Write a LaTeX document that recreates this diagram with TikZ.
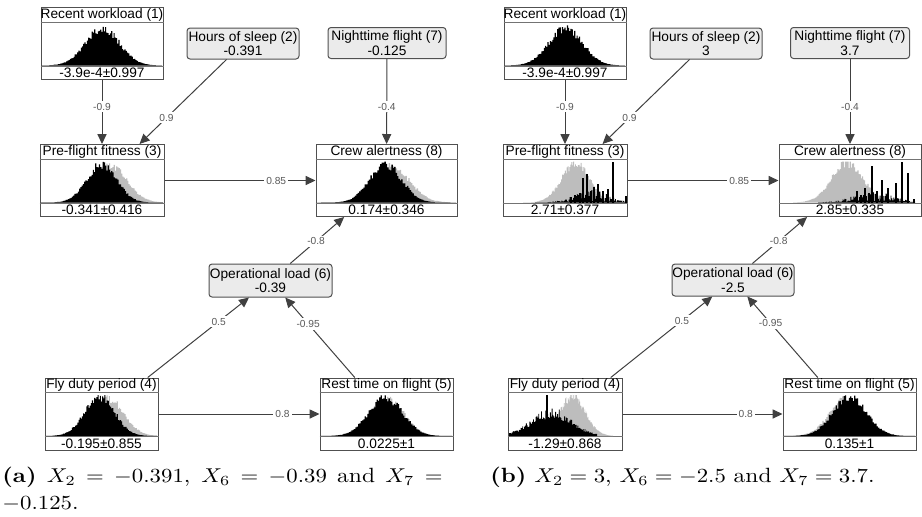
\documentclass[tikz,border=0pt]{standalone}
\usepackage{fontspec}
\newfontfamily\genie{Liberation Sans}
\usetikzlibrary{arrows.meta}
\definecolor{cev}{HTML}{EBEBEB}
\definecolor{cline}{HTML}{505050}
\definecolor{cprior}{HTML}{BDBDBD}
\definecolor{clab}{HTML}{5A5A5A}
\newcommand\nfont{\genie\fontsize{6.85}{7.3}\selectfont}
\newcommand\lfont{\genie\fontsize{5.1}{6}\selectfont}
\tikzset{
  distbox/.style={draw=cline,line width=0.5pt,inner sep=0pt,minimum height=36pt},
  sepline/.style={draw=cline!80,line width=0.5pt},
  nodetext/.style={inner sep=0pt,font=\nfont},
  evbox/.style={draw=cline,fill=cev,line width=0.5pt,rounded corners=1.5pt,inner sep=0pt,
    align=center,font=\nfont,minimum height=15.5pt},
  edge/.style={->,draw=black!75,line width=0.5pt},
  elabel/.style={fill=white,inner sep=1pt,text=clab,font=\lfont},
  spike/.style={draw=black,line width=0.9pt},
  captext/.style={inner sep=0pt,align=left,xscale=1.14,font=\fontsize{10.3}{13.2}\selectfont}
}
% box with title row, histogram area and value row
\newcommand\distnode[5]{%
  \node[distbox,minimum width=#3*0.5pt] (#1) at #2 {};
  \draw[sepline] ([yshift=-7.5pt]#1.north west) -- ([yshift=-7.5pt]#1.north east);
  \draw[sepline] ([yshift=7pt]#1.south west) -- ([yshift=7pt]#1.south east);
  \node[nodetext] (#1-t) at ([yshift=-3.9pt]#1.north) {#4};
  \node[nodetext] (#1-v) at ([yshift=3.4pt]#1.south) {#5};
}
% noisy gaussian histogram: [noise] colour, base, mean, sd, peak, from, to
\newcommand\bell[8][0.12]{%
  \fill[#2] (#7,#3) -- plot[const plot,domain=#7:#8,samples=100]
    (\x,{#3-min(41,#6*exp(-0.5*((\x-#4)/#5)^2)*(1+#1*rand))}) -- (#8,#3) -- cycle;
}

\begin{document}
\begin{tikzpicture}[x=0.5pt,y=-0.5pt,>={Triangle[length=5pt,width=4.6pt]}]
  \pgfmathsetseed{11}
  \useasboundingbox (0,0) rectangle (922,516);
  % (a) evidence on the prior means
  \begin{scope}
    \distnode{a-rw}{(102,43.5)}{122}{Recent workload (1)}{-3.9e-4±0.997}
    \bell{black}{65.5}{102}{17}{37}{42}{162}
    \node[evbox,minimum width=56pt] (a-hs) at (243,43.5) {Hours of sleep (2)\\-0.391};
    \node[evbox,minimum width=59pt] (a-nf) at (387,43) {Nighttime flight (7)\\-0.125};
    \distnode{a-pf}{(102,180.5)}{124}{Pre-flight fitness (3)}{-0.341±0.416}
    \bell{cprior}{202.5}{109}{17}{37}{41}{163}
    \bell{black}{202.5}{101}{15}{38}{41}{163}
    \distnode{a-ca}{(386.5,180.5)}{141}{Crew alertness (8)}{0.174±0.346}
    \bell{cprior}{202.5}{391}{18}{36}{317}{456}
    \bell{black}{202.5}{385}{16}{38}{317}{456}
    \node[evbox,minimum width=61.5pt,minimum height=16.5pt] (a-ol) at (270.5,280.5) {Operational load (6)\\-0.39};
    \distnode{a-fd}{(101.5,414)}{113}{Fly duty period (4)}{-0.195±0.855}
    \bell{cprior}{436}{107}{16}{37}{46}{157}
    \bell{black}{436}{99}{15}{39}{46}{157}
    \distnode{a-rt}{(386.5,414)}{133}{Rest time on flight (5)}{0.0225±1}
    \bell{cprior}{436}{386}{17}{37}{321}{452}
    \bell{black}{436}{385}{17}{38}{321}{452}
  \end{scope}
  % (b) strong evidence
  \begin{scope}[shift={(463,0)}]
    \distnode{b-rw}{(102,43.5)}{122}{Recent workload (1)}{-3.9e-4±0.997}
    \bell{black}{65.5}{102}{17}{37}{42}{162}
    \node[evbox,minimum width=56pt] (b-hs) at (243,43.5) {Hours of sleep (2)\\3};
    \node[evbox,minimum width=59.5pt] (b-nf) at (387,43) {Nighttime flight (7)\\3.7};
    \distnode{b-pf}{(102,180.5)}{124}{Pre-flight fitness (3)}{2.71±0.377}
    \bell{cprior}{202.5}{112}{14}{39}{60}{152}
    \bell[0.8]{black}{202.5}{128}{17}{7}{72}{162}
    \foreach \sx/\sh in {108/6,112/8,117/10,120/25,124/29,128/12,131/16,135/19,140/12,145/14,150/41,163/7}
      \draw[spike] (\sx,202.5) -- ++(0,-\sh);
    \distnode{b-ca}{(387,180.5)}{142}{Crew alertness (8)}{2.85±0.335}
    \bell{cprior}{202.5}{384}{16}{39}{330}{440}
    \bell[0.8]{black}{202.5}{410}{20}{6}{355}{452}
    \foreach \sx/\sh in {394/12,398/8,402/15,406/10,409/37,414/12,419/23,425/15,433/20,439/41,445/30,451/4}
      \draw[spike] (\sx,202.5) -- ++(0,-\sh);
    \node[evbox,minimum width=61pt,minimum height=16pt] (b-ol) at (270,280) {Operational load (6)\\-2.5};
    \distnode{b-fd}{(102,414)}{114}{Fly duty period (4)}{-1.29±0.868}
    \bell{cprior}{436}{109}{13}{39}{86}{150}
    \bell[0.25]{black}{436}{88}{20}{23}{46}{134}
    \draw[spike] (84,436) -- ++(0,-41);
    \distnode{b-rt}{(386.5,414)}{133}{Rest time on flight (5)}{0.135±1}
    \bell{cprior}{436}{383}{17}{37}{321}{452}
    \bell{black}{436}{386}{17}{38}{321}{452}
  \end{scope}
  % arcs with weights
  \foreach \p in {a,b}{
    \draw[edge] (\p-rw) -- node[elabel,pos=.42]{-0.9} (\p-pf);
    \draw[edge] (\p-hs) -- node[elabel,pos=.69]{0.9} (\p-pf);
    \draw[edge] (\p-nf) -- node[elabel,pos=.56]{-0.4} (\p-ca);
    \draw[edge] (\p-pf) -- node[elabel,pos=.74]{0.85} (\p-ca);
    \draw[edge] (\p-ol) -- node[elabel,pos=.48]{-0.8} (\p-ca);
    \draw[edge] (\p-fd) -- node[elabel,pos=.70]{0.5} (\p-ol);
    \draw[edge] (\p-rt) -- node[elabel,pos=.67]{-0.95} (\p-ol);
    \draw[edge] (\p-fd) -- node[elabel,pos=.77]{0.8} (\p-rt);
  }
  % captions
  \node[captext,anchor=north west] (capa) at (2,467)
    {\makebox[193pt][s]{\textbf{(a)} $X_2 = -0.391$, $X_6 = -0.39$ and $X_7 =$}\\$-0.125$.};
  \node[captext,anchor=north west] (capb) at (490,467)
    {\textbf{(b)} $X_2 = 3$, $X_6 = -2.5$ and $X_7 = 3.7$.};
\end{tikzpicture}
\end{document}
